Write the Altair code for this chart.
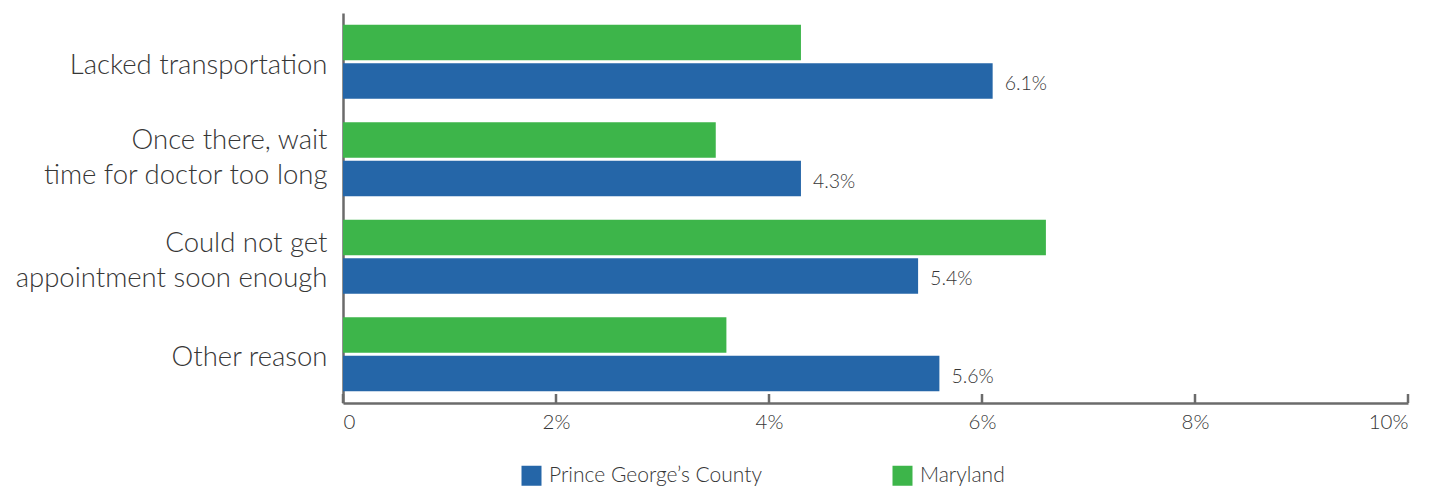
import altair as alt
import pandas as pd

categories = [
    "Lacked transportation",
    "Once there, wait\u00a0|time for doctor too long",
    "Could not get\u00a0|appointment soon enough",
    "Other reason",
]
series = ["Prince George\u2019s County", "Maryland"]
pg_values = [6.1, 4.3, 5.4, 5.6]
md_values = [4.3, 3.5, 6.6, 3.6]
x_ticks = [0, 2, 4, 6, 8, 10]
colors = ["#2566a8", "#3db54a"]

rows = []
for c, p, m in zip(categories, pg_values, md_values):
    rows.append({"category": c, "series": series[1], "value": m})
    rows.append({"category": c, "series": series[0], "value": p})
df = pd.DataFrame(rows)
ticks_df = pd.DataFrame({"t": x_ticks})

FONT = "Lato"
TEXT = "#363636"
AX = "#6b6b6b"

W, H = 1065, 390

xscale = alt.Scale(domain=[0, 10], nice=False)
yscale = alt.Scale(domain=categories, paddingInner=0.24, paddingOuter=0.12)
yoff = alt.YOffset("series:N", sort=[series[1], series[0]],
                   scale=alt.Scale(domain=[series[1], series[0]], paddingInner=0.08))

label_offset = {
    "condition": [
        {"test": "indexof(datum.value, 'Once') >= 0", "value": -18},
        {"test": "indexof(datum.value, 'Could') >= 0", "value": -13},
    ],
    "value": 4,
}

bars = alt.Chart(df).mark_bar().encode(
    x=alt.X("value:Q", scale=xscale,
            axis=alt.Axis(values=x_ticks, ticks=False, grid=False, domainColor=AX,
                          domainWidth=2.5, labelFontSize=20.5, labelColor=TEXT,
                          labelFont=FONT, labelFontWeight=300, labelPadding=9,
                          labelExpr="datum.value == 0 ? '0' : datum.value + '%'",
                          title=None)),
    y=alt.Y("category:N", scale=yscale, sort=categories,
            axis=alt.Axis(ticks=False, domainColor=AX, domainWidth=2.5, labelFontSize=27.5,
                          labelColor=TEXT, labelFont=FONT, labelFontWeight=300,
                          labelPadding=16, labelLineHeight=35, labelLimit=400,
                          labelOffset=label_offset,
                          labelExpr="split(datum.label, '|')", title=None)),
    yOffset=yoff,
    color=alt.Color("series:N", scale=alt.Scale(domain=series, range=colors),
                    legend=alt.Legend(orient="none", legendX=178, legendY=452,
                                      direction="horizontal", title=None,
                                      symbolType="square", symbolSize=400,
                                      symbolStrokeWidth=0, labelFontSize=21,
                                      labelFont=FONT, labelFontWeight=300,
                                      labelColor=TEXT, columnPadding=130,
                                      labelOffset=7, labelLimit=600)),
)

labels = alt.Chart(df).transform_filter(
    alt.datum.series == series[0]
).transform_calculate(
    label="format(datum.value, '.1f') + '%'"
).mark_text(align="left", baseline="middle", dx=12, dy=3, fontSize=19.5, font=FONT,
            fontWeight=300, color=TEXT).encode(
    x=alt.X("value:Q", scale=xscale),
    y=alt.Y("category:N", scale=yscale, sort=categories),
    yOffset=yoff,
    text=alt.Text("label:N"),
)

tick_marks = alt.Chart(ticks_df).mark_rule(color=AX, strokeWidth=2.5).encode(
    x=alt.X("t:Q", scale=xscale),
    y=alt.value(H - 9),
    y2=alt.value(H),
)

chart = alt.layer(bars, labels, tick_marks).properties(
    width=W, height=H,
    background="white",
    autosize=alt.AutoSizeParams(type="none"),
    padding={"left": 343, "top": 13, "right": 39, "bottom": 86},
).configure_view(stroke=None)

chart.save("out.html", embed_options={"renderer": "svg", "actions": False})
